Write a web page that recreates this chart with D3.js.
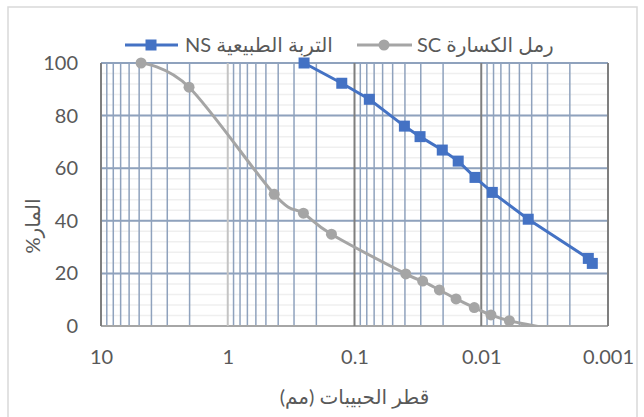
<!DOCTYPE html>
<html><head><meta charset="utf-8">
<script src="https://cdn.jsdelivr.net/npm/d3@7"></script>
<style>
html,body{margin:0;padding:0;background:#fff;}
svg{display:block;}
text{font-family:Lato,"DejaVu Sans",sans-serif;fill:#595959;}
</style></head>
<body>
<svg id="c" width="644" height="417"></svg>
<script>
// Data
const nsLabel = "NS التربة الطبيعية";
const scLabel = "SC رمل الكسارة";
const nsSize = [0.25, 0.126, 0.0764, 0.0404, 0.0304, 0.0203, 0.0152, 0.0112, 0.00818, 0.00426, 0.00143, 0.00133];
const nsPass = [100, 92.3, 86.2, 76.0, 72.0, 66.9, 62.7, 56.5, 50.8, 40.6, 25.7, 23.8];
const scSize = [4.83, 2.02, 0.43, 0.253, 0.152, 0.0394, 0.029, 0.0214, 0.0158, 0.01135, 0.00838, 0.0060, 0.0028];
const scPass = [100, 90.8, 50.1, 42.9, 34.9, 19.8, 17.1, 13.7, 10.3, 7.0, 4.2, 2.0, -1.2];
const xTicks = [10, 1, 0.1, 0.01, 0.001];
const xTickLabels = ["10", "1", "0.1", "0.01", "0.001"];
const yTicks = [0, 20, 40, 60, 80, 100];
const xTitle = "قطر الحبيبات (مم)";
const yTitle = "المار%";

const svg = d3.select("#c");
const L = 101, R = 608, T = 63, B = 326;
const x = d3.scaleLog().domain([10, 0.001]).range([L, R]);
const y = d3.scaleLinear().domain([0, 100]).range([B, T]);

// chart border
svg.append("rect").attr("x", 8).attr("y", 7).attr("width", 629).attr("height", 430)
  .attr("fill", "none").attr("stroke", "#d9d9d9").attr("stroke-width", 1.5);

const grid = svg.append("g");
// faint minor horizontal lines
d3.range(0, 101, 4).forEach(v => {
  grid.append("line").attr("x1", L).attr("x2", R).attr("y1", y(v)).attr("y2", y(v))
    .attr("stroke", "#efefef").attr("stroke-width", 1.5);
});
// minor vertical lines
const minors = [];
[1, 0.1, 0.01, 0.001].forEach(d => { for (let k = 2; k <= 9; k++) minors.push(d * k); });
minors.forEach(v => {
  grid.append("line").attr("x1", x(v)).attr("x2", x(v)).attr("y1", T).attr("y2", B)
    .attr("stroke", "#8fa2bd").attr("stroke-width", 1.5);
});
// major horizontal lines
yTicks.forEach(v => {
  grid.append("line").attr("x1", L).attr("x2", R).attr("y1", y(v)).attr("y2", y(v))
    .attr("stroke", v === 0 ? "#a6a6a6" : "#8fa2bd").attr("stroke-width", 2);
});
// major vertical lines
xTicks.forEach(v => {
  grid.append("line").attr("x1", x(v)).attr("x2", x(v)).attr("y1", T).attr("y2", B)
    .attr("stroke", v === 1 ? "#c4c4c4" : "#7f7f7f").attr("stroke-width", 2);
});

// axes labels via d3 axes
const xAxis = svg.append("g").attr("transform", `translate(0,${B})`)
  .call(d3.axisBottom(x).tickValues(xTicks).tickFormat((d, i) => xTickLabels[i]).tickSize(0).tickPadding(24));
xAxis.select(".domain").remove();
xAxis.selectAll("text").attr("font-size", 20).attr("fill", "#595959")
  .attr("font-family", "Lato,'DejaVu Sans',sans-serif");

const yAxis = svg.append("g").attr("transform", `translate(${L},0)`)
  .call(d3.axisLeft(y).tickValues(yTicks).tickSize(0).tickPadding(23));
yAxis.select(".domain").remove();
yAxis.selectAll("text").attr("font-size", 20).attr("fill", "#595959")
  .attr("font-family", "Lato,'DejaVu Sans',sans-serif");

// clip
svg.append("clipPath").attr("id", "pc").append("rect")
  .attr("x", L - 8).attr("y", T - 8).attr("width", R - L + 16).attr("height", B - T + 8);

const plot = svg.append("g").attr("clip-path", "url(#pc)");

const scData = scSize.map((d, i) => [d, scPass[i]]);
const nsData = nsSize.map((d, i) => [d, nsPass[i]]);

// SC smooth line
plot.append("path").datum(scData)
  .attr("d", d3.line().x(d => x(d[0])).y(d => y(d[1])).curve(d3.curveCatmullRom.alpha(0)))
  .attr("fill", "none").attr("stroke", "#a5a5a5").attr("stroke-width", 3);
plot.selectAll(".scm").data(scData.filter(d => d[1] >= 0)).enter().append("circle")
  .attr("cx", d => x(d[0])).attr("cy", d => y(d[1])).attr("r", 5.5).attr("fill", "#a5a5a5");

// NS line
plot.append("path").datum(nsData)
  .attr("d", d3.line().x(d => x(d[0])).y(d => y(d[1])))
  .attr("fill", "none").attr("stroke", "#4472c4").attr("stroke-width", 3);
plot.selectAll(".nsm").data(nsData).enter().append("rect")
  .attr("x", d => x(d[0]) - 5.5).attr("y", d => y(d[1]) - 5.5)
  .attr("width", 11).attr("height", 11).attr("fill", "#4472c4");

// Legend
const lg = svg.append("g");
lg.append("line").attr("x1", 125).attr("x2", 178).attr("y1", 45).attr("y2", 45)
  .attr("stroke", "#4472c4").attr("stroke-width", 3);
lg.append("rect").attr("x", 145.5).attr("y", 39.5).attr("width", 11).attr("height", 11).attr("fill", "#4472c4");
lg.append("text").attr("x", 185).attr("y", 45).attr("dy", "0.35em").attr("font-size", 20).text(nsLabel);

lg.append("line").attr("x1", 357).attr("x2", 412).attr("y1", 45).attr("y2", 45)
  .attr("stroke", "#a5a5a5").attr("stroke-width", 3);
lg.append("circle").attr("cx", 384).attr("cy", 45).attr("r", 5.5).attr("fill", "#a5a5a5");
lg.append("text").attr("x", 417).attr("y", 45).attr("dy", "0.35em").attr("font-size", 20).text(scLabel);

// Axis titles
svg.append("text").attr("x", (L + R) / 2).attr("y", 397).attr("dy", "0.35em")
  .attr("direction", "rtl").style("unicode-bidi", "embed")
  .attr("text-anchor", "middle").attr("font-size", 20).text(xTitle);
svg.append("text").attr("transform", "translate(33,226) rotate(-90)").attr("dy", "0.35em")
  .attr("direction", "rtl").style("unicode-bidi", "embed")
  .attr("text-anchor", "middle").attr("font-size", 20).text(yTitle);
</script>
</body></html>
